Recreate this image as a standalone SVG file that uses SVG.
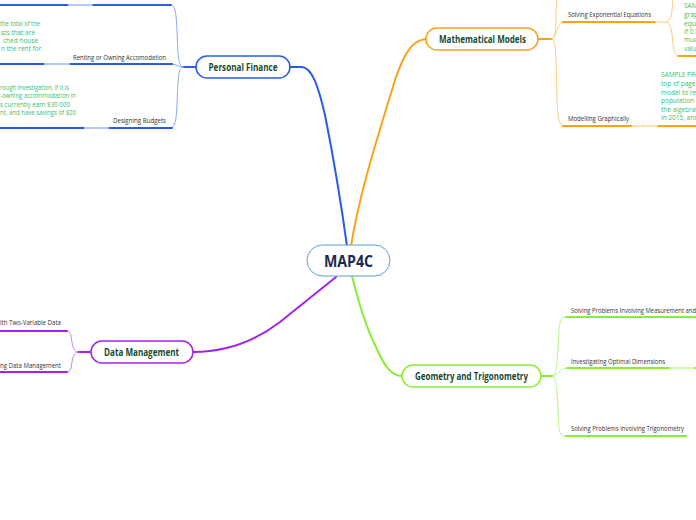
<svg xmlns="http://www.w3.org/2000/svg" width="696" height="520" viewBox="0 0 696 520">
<style>
.node{fill:#fff;stroke-width:1.5}
.nt{font-family:"Open Sans","Noto Sans",sans-serif;font-weight:bold;font-size:10px;fill:#174b2f;text-anchor:middle}
.lbl{font-family:"Open Sans","Noto Sans",sans-serif;font-size:7px;fill:#333}
.note{font-family:"Open Sans","Noto Sans",sans-serif;font-size:6.5px;fill:#33c26a}
.c{fill:none;stroke-linecap:round}
.b{stroke:#2a5ce8}.bl{stroke:#8aa6f5}.bx{stroke:#b9c9f8}
.o{stroke:#f8a31b}.ol{stroke:#fdcb80}.ox{stroke:#fde2b8}
.p{stroke:#a322f0}.pl{stroke:#c982f7}
.g{stroke:#88ee33}.gl{stroke:#bdf58a}.gx{stroke:#d3f9b0}
.th{stroke-width:2}.tn{stroke-width:1}
</style>
<rect width="696" height="520" fill="#fff"/>
<g id="connectors">
<path class="c b th" d="M290,67 L302,67 C312,68 318,85 325,115 C333,155 342,210 347,246"/>
<path class="c o th" d="M426,39 C410,40 402,60 395,80 C380,130 360,190 351,246"/>
<path class="c p th" d="M193,352 C220,352 250,345 280,322 C300,306 320,290 336,277"/>
<path class="c g th" d="M352,276 C358,300 365,325 375,345 C385,368 392,376 402,376"/>
<path class="c b th" d="M196,67 L183,67"/>
<path class="c bl tn" d="M183,67 C178,67 178,55 177,30 C176,10 175,5 170,5"/>
<path class="c bl tn" d="M183,67 C178,67 176,64 172,64"/>
<path class="c bl tn" d="M183,67 C178,67 178,80 177,105 C176,122 175,128 170,128"/>
<path class="c b th" d="M0,5 L69,5 M92,5 L171,5"/>
<path class="c bx th" d="M69,5 L92,5"/>
<path class="c b th" d="M0,64 L45,64 M69,64 L172,64"/>
<path class="c bx th" d="M45,64 L69,64"/>
<path class="c b th" d="M0,128 L85,128 M108,128 L172,128"/>
<path class="c bx th" d="M85,128 L108,128"/>
<path class="c o th" d="M538,39 L552,39"/>
<path class="c ol tn" d="M552,39 C555,39 556,30 556,15 C556,5 557,0 557,-5"/>
<path class="c ol tn" d="M552,39 C556,39 556,25 563,22"/>
<path class="c ol tn" d="M552,39 C557,39 556,70 557,100 C558,120 559,126 565,126"/>
<path class="c o th" d="M563,22 L655,22"/>
<path class="c ol tn" d="M655,22 L666,22 C672,22 672,10 673,-2"/>
<path class="c ol tn" d="M666,22 C672,22 672,35 673,45 C674,53 676,56 680,56"/>
<path class="c o th" d="M678,56 L696,56"/>
<path class="c o th" d="M563,126 L633,126 M657,126 L696,126"/>
<path class="c ox th" d="M633,126 L657,126"/>
<path class="c p th" d="M91,352 L78,352"/>
<path class="c pl tn" d="M78,352 C72,352 72,340 71,336 C70,332 69,331 66,331"/>
<path class="c pl tn" d="M78,352 C72,352 72,365 71,368 C70,371 69,372 66,372"/>
<path class="c p th" d="M0,331 L67,331 M0,372 L67,372"/>
<path class="c g th" d="M541,376 L553,376"/>
<path class="c gl tn" d="M553,376 C558,376 558,340 559,330 C560,320 561,317 566,317"/>
<path class="c gl tn" d="M553,376 C558,376 560,368 567,368"/>
<path class="c gl tn" d="M553,376 C558,376 558,420 559,428 C560,434 561,436 566,436"/>
<path class="c g th" d="M566,317 L696,317"/>
<path class="c g th" d="M567,368 L670,368 M694,368 L696,368"/>
<path class="c gx th" d="M670,368 L694,368"/>
<path class="c g th" d="M566,436 L686,436"/>
</g>
<g id="center">
<rect x="307" y="245" width="83" height="31" rx="15.5" fill="#fff" stroke="#5a9fd4" stroke-width="1"/>
<text x="348.5" y="266.5" font-family="Open Sans, Noto Sans, sans-serif" font-weight="bold" font-size="16" fill="#1b2a4e" text-anchor="middle" textLength="49" lengthAdjust="spacingAndGlyphs">MAP4C</text>
</g>
<g id="personal-finance">
<rect class="node" x="196" y="56" width="94" height="22" rx="11" stroke="#2a5ce8"/>
<text class="nt" x="243" y="70.5" textLength="69" lengthAdjust="spacingAndGlyphs">Personal Finance</text>
</g>
<g id="mathematical-models">
<rect class="node" x="426" y="28" width="112" height="22" rx="11" stroke="#f8a31b"/>
<text class="nt" x="482.5" y="42.5" textLength="87" lengthAdjust="spacingAndGlyphs">Mathematical Models</text>
</g>
<g id="data-management">
<rect class="node" x="91" y="341" width="102" height="22" rx="11" stroke="#a322f0"/>
<text class="nt" x="141.5" y="355.5" textLength="75" lengthAdjust="spacingAndGlyphs">Data Management</text>
</g>
<g id="geometry">
<rect class="node" x="402" y="365" width="139" height="22" rx="11" stroke="#88ee33"/>
<text class="nt" x="471.5" y="379.5" textLength="113" lengthAdjust="spacingAndGlyphs">Geometry and Trigonometry</text>
</g>
<g id="pf-renting">
<text class="lbl" x="166" y="59.5" text-anchor="end" textLength="93" lengthAdjust="spacingAndGlyphs">Renting or Owning Accomodation</text>
<text class="note" x="0" y="25.5" textLength="40" lengthAdjust="spacingAndGlyphs">the total of the</text>
<text class="note" x="1" y="34.5">sts that are</text>
<text class="note" x="3" y="42.5">ched house</text>
<text class="note" x="1" y="51">n the rent for</text>
</g>
<g id="pf-budgets">
<text class="lbl" x="166" y="123" text-anchor="end" textLength="53" lengthAdjust="spacingAndGlyphs">Designing Budgets</text>
<text class="note" x="0" y="89.5" textLength="69" lengthAdjust="spacingAndGlyphs">rough investigation, if it is</text>
<text class="note" x="0" y="98" textLength="76" lengthAdjust="spacingAndGlyphs">-owning accommodation in</text>
<text class="note" x="0" y="106.5" textLength="70" lengthAdjust="spacingAndGlyphs">s currently earn $30 000</text>
<text class="note" x="0" y="115" textLength="76" lengthAdjust="spacingAndGlyphs">nt, and have savings of $20</text>
</g>
<g id="mm-exponential">
<text class="lbl" x="568" y="17" textLength="83" lengthAdjust="spacingAndGlyphs">Solving Exponential Equations</text>
<text class="note" x="684" y="8">SAM</text>
<text class="note" x="684" y="17.3">grap</text>
<text class="note" x="684" y="25.6">equa</text>
<text class="note" x="684" y="34.3">If 0.5</text>
<text class="note" x="684" y="42.3">muc</text>
<text class="note" x="684" y="51">valu</text>
</g>
<g id="mm-graphically">
<text class="lbl" x="568" y="120.5" textLength="61" lengthAdjust="spacingAndGlyphs">Modelling Graphically</text>
<text class="note" x="661" y="77.3">SAMPLE PRO</text>
<text class="note" x="661" y="86.3">top of page 1</text>
<text class="note" x="661" y="94.6">model to rep</text>
<text class="note" x="661" y="103.3">population a</text>
<text class="note" x="661" y="111.6">the algebrai</text>
<text class="note" x="661" y="120.3">in 2015, and</text>
</g>
<g id="dm-two-variable">
<text class="lbl" x="0" y="325.3" textLength="61" lengthAdjust="spacingAndGlyphs">ith Two-Variable Data</text>
</g>
<g id="dm-management">
<text class="lbl" x="0" y="367.5" textLength="61" lengthAdjust="spacingAndGlyphs">ng Data Management</text>
</g>
<g id="gt-measurement">
<text class="lbl" x="571" y="312.5" textLength="125" lengthAdjust="spacingAndGlyphs">Solving Problems Involving Measurement and</text>
</g>
<g id="gt-optimal">
<text class="lbl" x="571" y="363.5" textLength="94" lengthAdjust="spacingAndGlyphs">Investigating Optimal Dimensions</text>
</g>
<g id="gt-trig">
<text class="lbl" x="571" y="430.5" textLength="113" lengthAdjust="spacingAndGlyphs">Solving Problems Involving Trigonometry</text>
</g>
</svg>
